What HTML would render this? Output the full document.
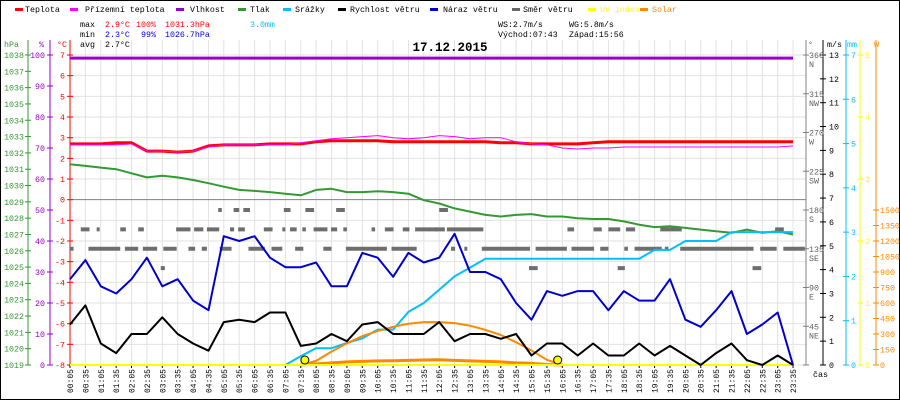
<!DOCTYPE html>
<html><head><meta charset="utf-8"><style>
body{margin:0;background:#fff}
svg{display:block;font-family:"Liberation Mono",monospace}
</style></head><body>
<svg id="chart" width="900" height="400" viewBox="0 0 900 400" xmlns="http://www.w3.org/2000/svg">
<rect x="0.5" y="0.5" width="899" height="399" fill="#fff" stroke="#000"/>
<g id="grid"></g>
<g id="legend" font-size="8.3"></g>
<g font-size="8.3">
<text x="80" y="27">max</text>
<text x="105" y="27" fill="#f00">2.9°C</text>
<text x="136" y="27" fill="#f00">100%</text>
<text x="165" y="27" fill="#f00">1031.3hPa</text>
<text x="250" y="27" fill="#00bfff">3.0mm</text>
<text x="80" y="37">min</text>
<text x="105" y="37" fill="#00c">2.3°C</text>
<text x="141" y="37" fill="#00c">99%</text>
<text x="165" y="37" fill="#00c">1026.7hPa</text>
<text x="80" y="47">avg</text>
<text x="105" y="47">2.7°C</text>
<text x="498" y="27">WS:2.7m/s</text>
<text x="569" y="27">WG:5.8m/s</text>
<text x="498" y="37">Východ:07:43</text>
<text x="569" y="37">Západ:15:56</text>
<text x="450" y="51" font-size="12.5" font-weight="bold" text-anchor="middle">17.12.2015</text>
</g>
<g id="axes" font-size="8.3"></g>
<g id="series"></g>
</svg>
<script>
const NS="http://www.w3.org/2000/svg";
const timeLabels=["00:05","00:35","01:05","01:35","02:05","02:35","03:05","03:35","04:05","04:35","05:05","05:35","06:05","06:35","07:05","07:35","08:05","08:35","09:05","09:35","10:05","10:35","11:05","11:35","12:05","12:35","13:05","13:35","14:05","14:35","15:05","15:35","16:05","16:35","17:05","17:35","18:05","18:35","19:05","19:35","20:05","20:35","21:05","21:35","22:05","22:35","23:05","23:35"];
const temperature=[2.7,2.7,2.7,2.75,2.75,2.35,2.35,2.3,2.35,2.6,2.65,2.65,2.65,2.7,2.7,2.7,2.8,2.85,2.85,2.85,2.85,2.8,2.8,2.8,2.8,2.8,2.8,2.8,2.75,2.75,2.7,2.7,2.7,2.7,2.75,2.8,2.8,2.8,2.8,2.8,2.8,2.8,2.8,2.8,2.8,2.8,2.8,2.8];
const feelsLike=[2.65,2.65,2.65,2.65,2.7,2.35,2.35,2.3,2.35,2.55,2.65,2.65,2.65,2.65,2.65,2.75,2.85,2.95,3.0,3.05,3.1,3.0,2.95,3.0,3.1,3.05,2.95,3.0,3.0,2.8,2.7,2.65,2.5,2.45,2.5,2.5,2.55,2.55,2.55,2.55,2.55,2.55,2.55,2.55,2.55,2.55,2.55,2.6];
const humidity=[99,99,99,99,99,99,99,99,99,99,99,99,99,99,99,99,99,99,99,99,99,99,99,99,99,99,99,99,99,99,99,99,99,99,99,99,99,99,99,99,99,99,99,99,99,99,99,99];
const pressure=[1031.3,1031.2,1031.1,1031.0,1030.75,1030.5,1030.6,1030.5,1030.34,1030.14,1029.93,1029.73,1029.67,1029.6,1029.5,1029.4,1029.73,1029.8,1029.6,1029.6,1029.65,1029.6,1029.5,1029.1,1028.9,1028.6,1028.4,1028.2,1028.1,1028.2,1028.25,1028.1,1028.1,1028.0,1027.95,1027.95,1027.8,1027.6,1027.45,1027.5,1027.4,1027.3,1027.2,1027.1,1027.3,1027.1,1027.2,1027.0];
const rain=[0,0,0,0,0,0,0,0,0,0,0,0,0,0,0,0.2,0.38,0.38,0.5,0.6,0.8,0.8,1.2,1.4,1.7,2.0,2.2,2.4,2.4,2.4,2.4,2.4,2.4,2.4,2.4,2.4,2.4,2.4,2.6,2.6,2.8,2.8,2.8,3.0,3.0,3.0,3.0,3.0];
const windSpeed=[1.7,2.5,0.9,0.5,1.3,1.3,2.0,1.3,0.9,0.6,1.8,1.9,1.8,2.2,2.2,0.8,0.9,1.3,1.0,1.7,1.8,1.3,1.3,1.3,1.8,1.0,1.3,1.3,1.1,1.3,0.4,0.9,0.9,0.4,0.9,0.4,0.4,0.9,0.4,0.8,0.4,0,0.5,0.9,0.2,0,0.4,0];
const windGust=[3.6,4.4,3.3,3.0,3.6,4.5,3.3,3.6,2.7,2.3,5.4,5.2,5.4,4.5,4.1,4.1,4.3,3.3,3.3,4.7,4.5,3.7,4.7,4.3,4.5,5.5,3.9,3.9,3.6,2.6,1.9,3.1,2.9,3.1,3.1,2.3,3.1,2.7,2.7,3.6,1.9,1.6,2.3,3.1,1.3,1.7,2.2,0];
const solarMax=[0,0,0,0,0,0,0,0,0,0,0,0,0,0,0,0,40,130,210,280,330,370,400,415,415,405,380,340,290,220,140,50,0,0,0,0,0,0,0,0,0,0,0,0,0,0,0,0];
const solar=[0,0,0,0,0,0,0,0,0,0,0,0,0,0,0,0,10,20,30,35,40,42,45,48,50,45,40,35,30,20,15,5,0,0,0,0,0,0,0,0,0,0,0,0,0,0,0,0];
const uvIndex=new Array(48).fill(0);
const dir135=[[5,12],[41,103],[112,138],[147,175],[187,213],[236,249],[262,272],[297,320],[353,385],[398,419],[444,460],[499,515],[543,623],[632,681],[748,756],[774,779],[808,902],[913,974],[983,1027],[1039,1055],[1086,1093],[1106,1159],[1165,1172],[1195,1338],[1351,1383],[1396,1438]];
const dir157=[[26,43],[57,62],[103,114],[138,149],[212,240],[247,265],[272,296],[317,325],[333,346],[383,400],[419,424],[434,447],[458,465],[480,507],[514,526],[538,545],[593,600],[619,636],[654,667],[678,722],[717,736],[740,811],[975,988],[1026,1042],[1055,1078],[1089,1107],[1156,1198],[1380,1397]];
const dir180=[[294,301],[324,335],[343,356],[422,435],[464,481],[524,541],[725,742]];
const dir112=[[182,190],[900,917],[1073,1087],[1336,1353]];
const sunEvents=[463,956];

const X0=70,PX=0.5128,TOP=55,BOT=365;
const xMin=m=>X0+(m-5)*PX;
const xi=i=>xMin(5+30*i);
const yT=v=>BOT-(v+8)*(BOT-TOP)/15;
const yH=v=>BOT-(v-1019)*(BOT-TOP)/19;
const yP=v=>BOT-v*(BOT-TOP)/100;
const yW=v=>BOT-v*(BOT-TOP)/13;
const yR=v=>BOT-v*(BOT-TOP)/7;
const yU=v=>BOT-v*(BOT-TOP)/5;
const yS=v=>BOT-v*(BOT-210)/1500;
const yD=v=>BOT-v*(BOT-TOP)/360;

function el(parent,tag,attrs,txt){const e=document.createElementNS(NS,tag);for(const k in attrs)e.setAttribute(k,attrs[k]);if(txt!==undefined)e.textContent=txt;document.getElementById(parent).appendChild(e);return e;}

// grid
timeLabels.forEach((t,i)=>{
 const g=el('grid','line',{x1:xi(i),x2:xi(i),y1:40,y2:BOT,stroke:'#e2e2e2'});
 
 
});
for(let v=-8;v<=7;v++){
 const g=el('grid','line',{x1:X0,x2:806,y1:yT(v),y2:yT(v),stroke:v===0?'#808080':'#e2e2e2'});
 
 
}
// legend
const legItems=[["Teplota","#f00",15,25],["Přízemní teplota","#f0f",70,85],["Vlhkost","#90c",176,190],["Tlak","#393",238,250],["Srážky","#00bfff",283,295],["Rychlost větru","#000",338,350],["Náraz větru","#00c",430,443],["Směr větru","#666",512,523],["UV index","#ff0",588,600],["Solar","#f80",640,652]];
legItems.forEach(([n,c,dx,tx])=>{
 const l=el('legend','rect',{x:dx,y:8,width:8,height:3,fill:c});
 
 
 const t=el('legend','text',{x:tx,y:12,fill:(c==='#ff0'||c==='#f80')?c:'#000'},n);
 
 
});
// axes
function axisLine(x,color,name,y1){const a=el('axes','line',{x1:x,x2:x,y1:y1||40,y2:BOT,stroke:color});}
axisLine(28,'#393','hpa-axis');axisLine(50,'#90c','humidity-axis');axisLine(70,'#f00','temp-axis');
axisLine(806,'#808080','direction-axis');axisLine(823,'#000','wind-axis');axisLine(846,'#00bfff','rain-axis');axisLine(860,'#ff0','uv-axis');axisLine(876,'#f80','solar-axis');
function tick(x1,x2,y,color,label,lx,anchor,fill,name){
 el('axes','line',{x1:x1,x2:x2,y1:y,y2:y,stroke:color});
 const t=el('axes','text',{x:lx,y:y+3,'text-anchor':anchor,fill:fill},label);
 
 
}
for(let v=1019;v<=1038;v++)tick(25,31,yH(v),'#393',v,24,'end','#393','hpa-tick-label');
for(let v=0;v<=100;v+=10)tick(47,53,yP(v),'#90c',v,45,'end','#90c','humidity-tick-label');
for(let v=-8;v<=7;v++)tick(67,73,yT(v),'#f00',v,65,'end','#f00','temp-tick-label');
for(let v=0;v<=13;v++)tick(820,826,yW(v),'#000',v,829,'start','#000','wind-tick-label');
for(let v=0;v<=7;v++)tick(843,849,yR(v),'#00bfff',v,851,'start','#00bfff','rain-tick-label');
for(let v=0;v<=5;v++)tick(857,863,yU(v),'#ff0',v,865,'start','#ff0','uv-tick-label');
for(let v=0;v<=1500;v+=150)tick(873,879,yS(v),'#f80',v,880,'start','#f80','solar-tick-label');
const dirNames=["","NE","E","SE","S","SW","W","NW","N"];
for(let i=0;i<=8;i++){
 const v=i*45;
 tick(803,809,yD(v),'#808080',i?v:'',809,'start','#606060','direction-tick-label');
 if(i){const t=el('axes','text',{x:809,y:yD(v)+12,fill:'#606060'},dirNames[i]);}
}
[["hPa",4,'#393'],["%",39,'#90c'],["°C",57,'#f00'],["°",808,'#606060'],["m/s",827,'#000'],["mm",847,'#00bfff'],["W",874,'#f80']].forEach(([n,x,c])=>{
 const t=el('axes','text',{x:x,y:47,fill:c},n);
 
 
});
const ct=el('axes','text',{x:813,y:377},'čas');


timeLabels.forEach((t,i)=>{
 const x=xi(i);
 el('axes','line',{x1:x,x2:x,y1:BOT,y2:BOT+3,stroke:'#000'});
 const tx=el('axes','text',{x:x+3,y:369,'text-anchor':'end',transform:`rotate(-90 ${x+3} 369)`,'font-size':'8'},t);
 
 
});
// series
function line(arr,yf,color,w,name,range){
 const pts=[];arr.forEach((v,i)=>{if(!range||(i>=range[0]&&i<=range[1]))pts.push(xi(i).toFixed(1)+','+yf(v).toFixed(1));});
 const p=el('series','polyline',{points:pts.join(' '),fill:'none',stroke:color,'stroke-width':w,'stroke-linejoin':'round'});
 
 
}
function dirs(list,deg){list.forEach(([a,b])=>{
 const r=el('series','rect',{x:xMin(a),y:yD(deg)-2,width:Math.max(3,xMin(b)-xMin(a)),height:4,fill:'#6e6e6e'});
 
 
});}
dirs(dir135,135);dirs(dir157,157.5);dirs(dir180,180);dirs(dir112,112.5);
line(humidity,yP,'#90c',3,'humidity-line');
line(pressure,yH,'#393',2,'pressure-line');
line(temperature,yT,'#f00',3,'temperature-line');
line(feelsLike,yT,'#f0f',1,'feels-like-line');
line(rain,yR,'#00bfff',2,'rain-line',[14,47]);
line(solarMax,yS,'#f80',2,'solar-max-line',[15,32]);
line(solar,yS,'#f80',3,'solar-line',[15,32]);
line(uvIndex,yU,'#ff0',2,'uv-line');
line(windGust,yW,'#00c',2,'wind-gust-line');
line(windSpeed,yW,'#000',2,'wind-speed-line');
sunEvents.forEach(m=>{
 const c=el('series','circle',{cx:xMin(m),cy:360,r:4,fill:'#ff0',stroke:'#000','stroke-width':1});
 
 
});
</script>
</body></html>
